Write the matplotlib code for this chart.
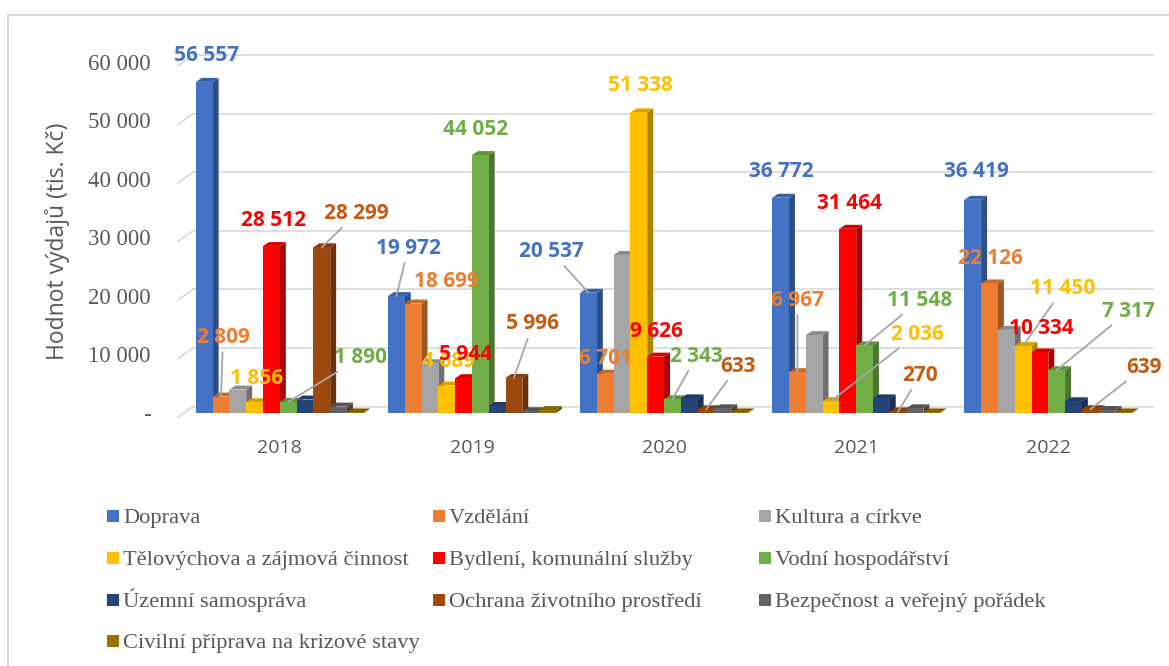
import numpy as np
import matplotlib.pyplot as plt
from matplotlib.colors import to_rgb
from matplotlib.patches import Polygon, Rectangle
from matplotlib.ticker import FuncFormatter

# ---- data (tis. Kč) ----
years = ["2018", "2019", "2020", "2021", "2022"]
series = ["Doprava", "Vzdělání", "Kultura a církve",
          "Tělovýchova a zájmová činnost", "Bydlení, komunální služby", "Vodní hospodářství",
          "Územní samospráva", "Ochrana životního prostředí", "Bezpečnost a veřejný pořádek",
          "Civilní příprava na krizové stavy"]
doprava = [56557, 19972, 20537, 36772, 36419]
vzdelani = [2809, 18699, 6701, 6967, 22126]
kultura = [4000, 8500, 27000, 13300, 14200]
telovychova = [1856, 4689, 51338, 2036, 11450]
bydleni = [28512, 5944, 9626, 31464, 10334]
vodni = [1890, 44052, 2343, 11548, 7317]
uzemni = [2300, 1200, 2500, 2500, 2000]
ochrana = [28299, 5996, 633, 270, 639]
bezpecnost = [1100, 300, 800, 800, 500]
civilni = [100, 500, 100, 100, 100]
values = [doprava, vzdelani, kultura, telovychova, bydleni, vodni,
          uzemni, ochrana, bezpecnost, civilni]

# ---- styling ----
colors = ["#4472C4", "#ED7D31", "#A5A5A5", "#FFC000", "#FF0000", "#70AD47",
          "#264478", "#9E480E", "#636363", "#997300"]
label_colors = {0: "#4472C4", 1: "#ED7D31", 3: "#FFC000", 4: "#FF0000",
                5: "#70AD47", 7: "#C55A11"}
# (year index, series index): (offset x px, offset y px, leader line)
label_pos = {
    (0, 0): (2, 26, False), (0, 1): (2, 59, True), (0, 3): (2, 24, False),
    (0, 4): (2, 26, False), (0, 5): (72, 44, True), (0, 7): (35, 34, True),
    (1, 0): (12, 48, True), (1, 1): (33, 22, False), (1, 3): (2, 24, False),
    (1, 4): (2, 24, False), (1, 5): (-5, 26, False), (1, 7): (19, 54, True),
    (2, 0): (-37, 41, True), (2, 1): (0, 15, False), (2, 3): (2, 27, False),
    (2, 4): (1, 25, False), (2, 5): (24, 43, True), (2, 7): (32, 43, True),
    (3, 0): (1, 26, False), (3, 1): (0, 72, True), (3, 3): (86, 67, True),
    (3, 4): (2, 25, False), (3, 5): (55, 45, True), (3, 7): (22, 36, True),
    (4, 0): (4, 28, False), (4, 1): (1, 25, False), (4, 3): (40, 57, True),
    (4, 4): (1, 24, False), (4, 5): (72, 59, True), (4, 7): (54, 42, True),
}
grey_txt = "#595959"


def shade(c, f):
    return tuple(np.array(to_rgb(c)) * f)


def fmt(v):
    return f"{int(v):,}".replace(",", " ")


fig = plt.figure(figsize=(11.69, 6.66), dpi=100)
ax = fig.add_axes([178 / 1169, 253 / 666, 975 / 1169, 363 / 666])
xl, xr = -0.53, 4.545
ax.set_xlim(xl, xr)
ax.set_ylim(0, 62000)

# back-wall gridlines with a short slanted floor segment
yticks = list(range(0, 60001, 10000))
for v in yticks:
    ax.plot([xl, xl + 0.078], [v - 700, v + 1100], color="#D9D9D9", lw=1.2, zorder=1, clip_on=False)
    ax.plot([xl + 0.078, xr], [v + 1100, v + 1100], color="#D9D9D9", lw=1.2, zorder=1, clip_on=False)

# pseudo-3D columns
w = 0.0874
ddx, ddy = 0.031, 680
for g in range(len(years)):
    for i, vals in enumerate(values):
        v = vals[g]
        c = colors[i]
        xc = g + (i - 4.5) * w
        x0, x1 = xc - w / 2, xc + w / 2
        z = 3 + g + i * 0.05
        ax.add_patch(Polygon([(x1, 0), (x1 + ddx, ddy), (x1 + ddx, v + ddy), (x1, v)],
                             closed=True, fc=shade(c, 0.68), ec="none", zorder=z))
        ax.add_patch(Polygon([(x0, v), (x0 + ddx, v + ddy), (x1 + ddx, v + ddy), (x1, v)],
                             closed=True, fc=shade(c, 0.85), ec="none", zorder=z))
        ax.bar(xc, v, w, color=c, zorder=z + 0.01)

# data labels
for (g, i), (ox, oy, leader) in label_pos.items():
    v = values[i][g]
    xc = g + (i - 4.5) * w
    ap = dict(arrowstyle="-", color="#A6A6A6", lw=1.3, shrinkA=1, shrinkB=0) if leader else None
    ax.annotate(fmt(v), xy=(xc, v), xytext=(ox, oy), textcoords="offset pixels",
                ha="center", va="center", fontsize=15, fontweight="bold",
                family="Open Sans", color=label_colors[i], arrowprops=ap,
                zorder=20, annotation_clip=False)

# axes styling
for s in ax.spines.values():
    s.set_visible(False)
ax.set_yticks(yticks)
ax.yaxis.set_major_formatter(FuncFormatter(lambda v, _: "-" if v == 0 else fmt(v)))
ax.tick_params(axis="y", length=0, pad=19.5, labelsize=16.5, labelcolor=grey_txt)
for t in ax.get_yticklabels():
    t.set_family("Liberation Serif")
ax.set_xticks(range(len(years)))
ax.set_xticklabels(years, family="Open Sans", fontsize=14, color=grey_txt)
ax.tick_params(axis="x", length=0, pad=19)
ax.set_ylabel("Hodnot výdajů (tis. Kč)", family="Open Sans", fontsize=16.5, color=grey_txt)
ax.yaxis.set_label_coords(-0.111, 0.474)

# legend laid out in rows like the original (3 equal-width columns)
col_x = [107, 433, 759]
row_y = [516, 558, 600, 641]
for k, name in enumerate(series):
    r, c = divmod(k, 3)
    x, y = col_x[c], row_y[r]
    fig.patches.append(Rectangle((x / 1169, 1 - (y + 6) / 666), 12 / 1169, 12 / 666,
                                 transform=fig.transFigure, fc=colors[k], ec="none"))
    fig.text((x + 16) / 1169, 1 - (y + 7) / 666, name, family="Liberation Serif", fontsize=16.2,
             color=grey_txt, va="baseline", ha="left")

# outer chart frame
fig.patches.append(Rectangle((8 / 1169, -0.1), 1.2, 1 - 15 / 666 + 0.1, transform=fig.transFigure,
                             fill=False, ec="#D9D9D9", lw=1.5))

fig.savefig("out.png", dpi=100)
